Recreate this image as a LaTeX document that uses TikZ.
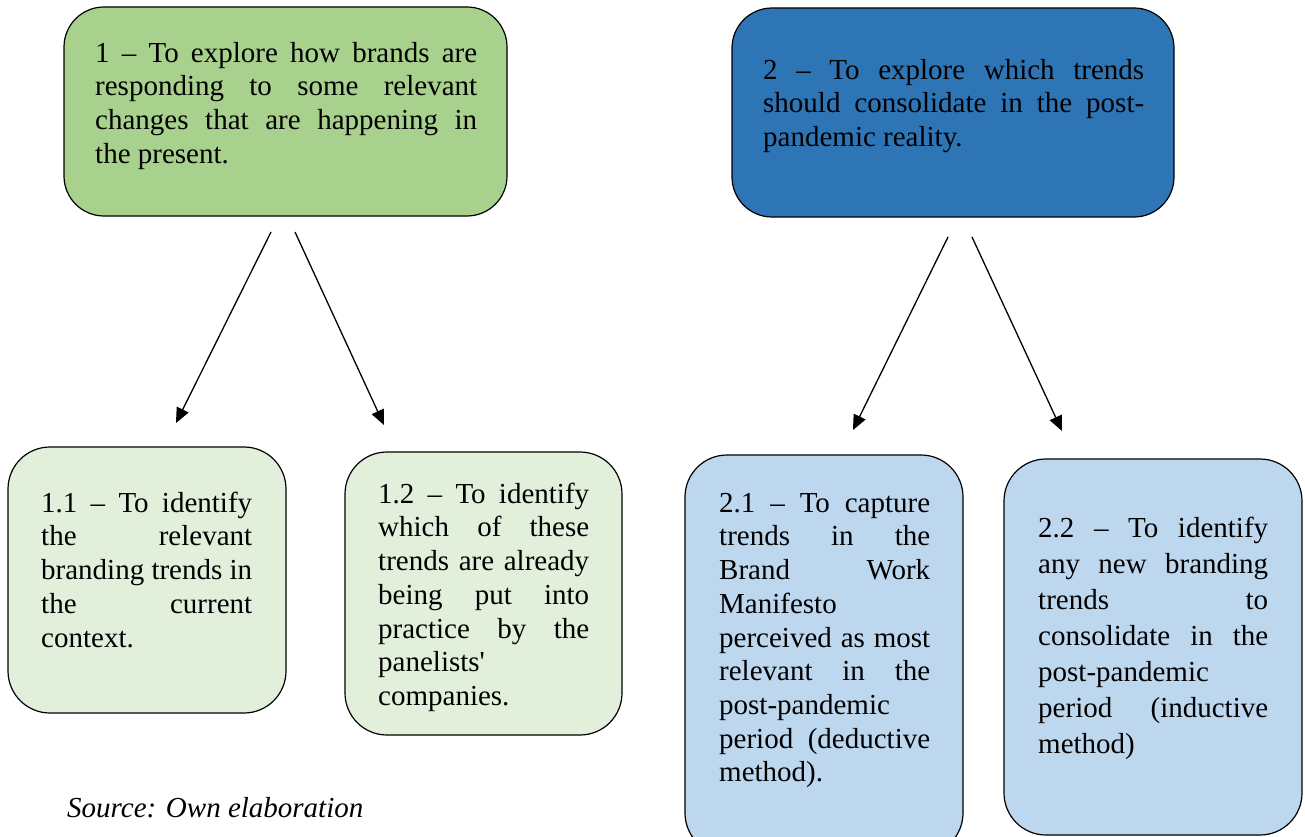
\documentclass[tikz,border=0pt]{standalone}
\usepackage{fontspec}
\setmainfont{Liberation Serif}[Ligatures=TeXOff]
\usetikzlibrary{arrows.meta}
\definecolor{gDark}{HTML}{A9D18E}
\definecolor{bDark}{HTML}{2E75B6}
\definecolor{gLight}{HTML}{E2EFDA}
\definecolor{bLight}{HTML}{BDD7EE}
\newcommand{\jline}[2]{\makebox[#1pt][s]{#2}}
\tikzset{
  boxbase/.style={draw=black, line width=1.2pt, rectangle, inner sep=0pt},
  topbox/.style={boxbase, rounded corners=40pt},
  lowbox/.style={boxbase, rounded corners=42pt},
  txt/.style={anchor=north west, inner sep=0pt, align=left, font=\fontsize{29}{33.7}\selectfont},
  arr/.style={line width=1.3pt, -{Triangle[length=15pt,width=13pt]}},
}
\begin{document}
\begin{tikzpicture}[x=1pt,y=-1pt]
\useasboundingbox (0,0) rectangle (1305,837);
\clip (0,0) rectangle (1305,837);
% boxes
\node[topbox, fill=gDark, minimum width=443pt, minimum height=209pt] (b1) at (285.5,111.5) {};
\node[topbox, fill=bDark, minimum width=442pt, minimum height=209pt] (b2) at (953,112.5) {};
\node[lowbox, fill=gLight, minimum width=278pt, minimum height=266pt] (b11) at (147,580) {};
\node[lowbox, fill=gLight, minimum width=277pt, minimum height=283pt] (b12) at (483.5,593.5) {};
\node[lowbox, fill=bLight, minimum width=278pt, minimum height=400pt] (b21) at (824,655) {};
\node[lowbox, fill=bLight, minimum width=298pt, minimum height=376pt] (b22) at (1153,647) {};
% texts
\node[txt] (t1) at (95,37) {\rule{0pt}{25pt}\jline{382}{1 – To explore how brands are}\\
\jline{382}{responding to some relevant}\\
\jline{382}{changes that are happening in}\\
the present.};
\node[txt] (t2) at (763,54) {\rule{0pt}{25pt}\jline{381}{2 – To explore which trends}\\
\jline{381}{should consolidate in the post-}\\
pandemic reality.};
\node[txt] (t11) at (41,487) {\rule{0pt}{25pt}\jline{211}{1.1 – To identify}\\
\jline{211}{the relevant}\\
\jline{211}{branding trends in}\\
\jline{211}{the current}\\
context.};
\node[txt] (t12) at (378,478) {\rule{0pt}{25pt}\jline{211}{1.2 – To identify}\\
\jline{211}{which of these}\\
\jline{211}{trends are already}\\
\jline{211}{being put into}\\
\jline{211}{practice by the}\\
panelists'\\
companies.};
\node[txt] (t21) at (719,487) {\rule{0pt}{25pt}\jline{211}{2.1 – To capture}\\
\jline{211}{trends in the}\\
\jline{211}{Brand Work}\\
Manifesto\\
\jline{211}{perceived as most}\\
\jline{211}{relevant in the}\\
post-pandemic\\
\jline{211}{period (deductive}\\
method).};
\node[txt, font=\fontsize{29}{36}\selectfont] (t22) at (1038,512) {\rule{0pt}{25pt}\jline{230}{2.2 – To identify}\\
\jline{230}{any new branding}\\
\jline{230}{trends to}\\
\jline{230}{consolidate in the}\\
post-pandemic\\
\jline{230}{period (inductive}\\
method)};
\node[anchor=base west, inner sep=0pt, font=\fontsize{29}{34}\selectfont\itshape] (src) at (67,817) {Source: Own elaboration};
% connectors
\coordinate (a1s) at (271,232);
\coordinate (a1e) at (176,423);
\coordinate (a2s) at (295,232);
\coordinate (a2e) at (384,425);
\coordinate (a3s) at (948,237);
\coordinate (a3e) at (853,430);
\coordinate (a4s) at (972,237);
\coordinate (a4e) at (1062,431);
\draw[arr] (a1s) -- (a1e);
\draw[arr] (a2s) -- (a2e);
\draw[arr] (a3s) -- (a3e);
\draw[arr] (a4s) -- (a4e);
\end{tikzpicture}
\end{document}
